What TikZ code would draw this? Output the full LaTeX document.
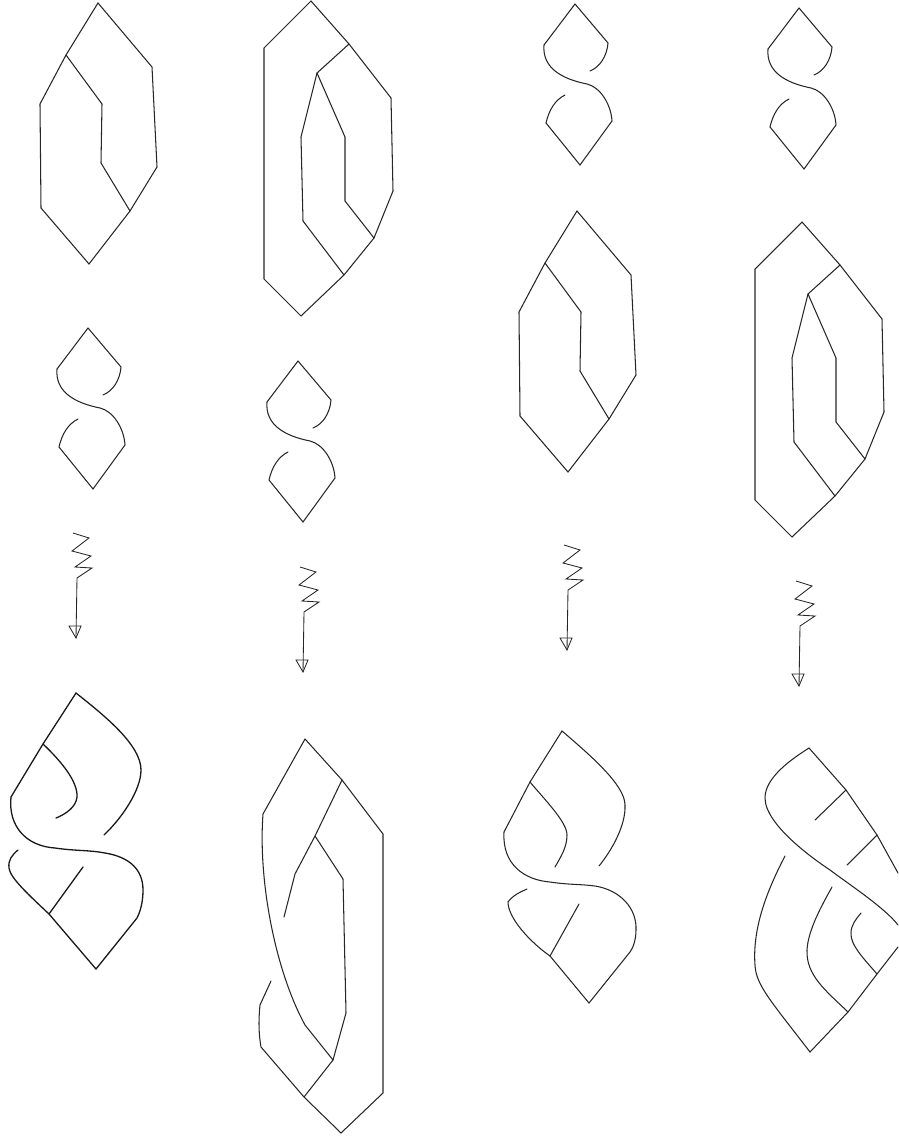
\documentclass[tikz,border=0pt]{standalone}
\tikzset{
  px/.style={x=1pt,y=-1pt},
  knotline/.style={draw=black!85,line width=1.05pt,line join=miter,line cap=round},
  boldline/.style={draw=black!90,line width=1.3pt,line join=miter,line cap=round},
  thinline/.style={draw=black!85,line width=0.85pt,line join=miter},
  pics/sknot/.style={code={
    \draw[knotline] (88,328) -- (57,369) .. controls (55,392) and (75,403) .. (100,408)
      .. controls (113,411) and (124,428) .. (125,445) -- (93,489) -- (59,447)
      .. controls (62,434) and (68,424) .. (78,419);
    \draw[knotline] (88,328) -- (121,367) .. controls (120,380) and (113,391) .. (103,395);
  }},
  pics/squig/.style={code={
    \draw[thinline] (73,533) -- (89,538) -- (72,551) -- (91,556) -- (75,567) -- (92,568) -- (77,578) -- (76,638);
    \draw[thinline] (69,626) -- (81,626) -- (76,638) -- cycle;
  }},
  pics/hexa/.style={code={
    \draw[knotline] (98,3) -- (152,67) -- (157,167) -- (130,211) -- (89,264) -- (41,208) -- (40,104) -- (66,55) -- cycle;
    \draw[knotline] (66,55) -- (102,104) -- (101,163) -- (130,211);
  }},
  pics/octa/.style={code={
    \draw[knotline] (311,1) -- (349,44) -- (391,98) -- (393,191) -- (374,238) -- (344,275) -- (301,316) -- (264,279) -- (264,48) -- cycle;
    \draw[knotline] (349,44) -- (317,73) -- (345,137) -- (345,201) -- (374,238);
    \draw[knotline] (317,73) -- (301,137) -- (303,221) -- (344,275);
  }},
}
\begin{document}
\begin{tikzpicture}[px]
\useasboundingbox (0,0) rectangle (898,1137);
% upper shapes
\pic at (0,0) {hexa};
\pic at (479,208) {hexa};
\pic at (0,0) {octa};
\pic at (491,221) {octa};
% small knots
\pic at (0,0) {sknot};
\pic at (210,33) {sknot};
\pic at (487,-324) {sknot};
\pic at (711,-320) {sknot};
% squiggle arrows
\pic at (0,0) {squig};
\pic at (227,34) {squig};
\pic at (491,12) {squig};
\pic at (723,48) {squig};
% lower diagram 1
\draw[boldline] (11,797) -- (43,744) -- (76,693) .. controls (105,716) and (141,745) .. (141,770)
  .. controls (141,790) and (122,818) .. (104,835);
\draw[boldline] (11,797) .. controls (8,825) and (25,846) .. (55,848)
  .. controls (75,851) and (90,850) .. (105,853) .. controls (130,857) and (143,870) .. (143,890)
  .. controls (143,903) and (140,912) .. (137,918) -- (96,969) -- (49,914)
  .. controls (30,896) and (10,878) .. (9,868) .. controls (8,860) and (12,855) .. (18,850);
\draw[boldline] (49,914) -- (83,867);
\draw[boldline] (43,744) .. controls (62,762) and (78,782) .. (77,797) .. controls (76,807) and (66,814) .. (56,818);
% lower diagram 2
\draw[knotline] (305,739) -- (342,780) -- (383,834) -- (383,1093) -- (341,1133) -- (304,1097) -- (261,1047)
  .. controls (258,1030) and (259,1015) .. (260,1005) -- (271,981);
\draw[knotline] (305,739) -- (263,814) .. controls (258,880) and (275,970) .. (305,1025) -- (333,1060);
\draw[knotline] (304,1097) -- (333,1060) -- (346,1013) -- (343,879) -- (315,836);
\draw[knotline] (342,780) -- (315,836) -- (295,874) -- (284,917);
% lower diagram 3
\draw[knotline] (530,782) -- (562,731) .. controls (590,755) and (625,785) .. (625,805)
  .. controls (626,825) and (612,850) .. (599,866);
\draw[knotline] (530,782) -- (504,832) .. controls (502,865) and (525,880) .. (550,882)
  .. controls (570,885) and (580,884) .. (595,886) .. controls (620,890) and (637,908) .. (636,930)
  .. controls (636,940) and (633,948) .. (630,952) -- (589,1003) -- (550,956)
  .. controls (530,942) and (508,918) .. (508,902) .. controls (512,896) and (520,892) .. (527,889);
\draw[knotline] (550,956) -- (579,904);
\draw[knotline] (530,782) .. controls (545,800) and (567,822) .. (567,835) .. controls (567,848) and (560,858) .. (555,867);
% lower diagram 4
\draw[knotline] (898,873) -- (877,835) -- (846,790) -- (809,748) .. controls (790,760) and (765,778) .. (765,798)
  .. controls (765,825) and (815,860) .. (830,870) .. controls (850,885) and (885,908) .. (898,925);
\draw[knotline] (846,790) -- (815,820);
\draw[knotline] (877,835) -- (847,865);
\draw[knotline] (785,856) .. controls (770,885) and (752,925) .. (755,965) .. controls (756,985) and (770,1000) .. (810,1052)
  -- (848,1012) -- (877,974) -- (898,947);
\draw[knotline] (848,1012) .. controls (825,990) and (806,975) .. (807,950) .. controls (808,930) and (822,905) .. (832,887);
\draw[knotline] (877,974) .. controls (865,960) and (850,945) .. (851,933) .. controls (851,925) and (856,919) .. (861,913);
\end{tikzpicture}
\end{document}
